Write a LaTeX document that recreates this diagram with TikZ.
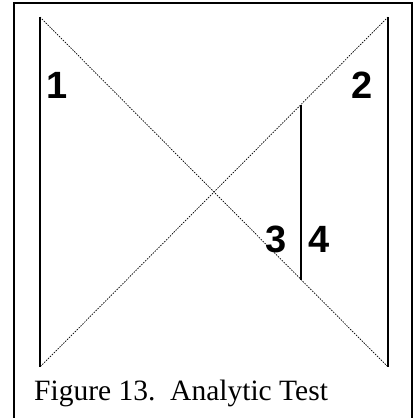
\documentclass[tikz,border=0pt]{standalone}
\usepackage{fontspec}
\setmainfont{Liberation Serif}
\newfontfamily\digitfont{Liberation Sans}
\usepackage{tikz}
\usetikzlibrary{positioning}

\begin{document}
\begin{tikzpicture}[x=1pt,y=-1pt,
  boxline/.style={line width=1.8pt},
  pole/.style={line width=2.5pt},
  sight/.style={line width=0.7pt,dash pattern=on 1.5pt off 1.2pt},
  num/.style={font=\digitfont\bfseries\fontsize{38}{38}\selectfont,inner sep=0pt,anchor=base},
  caption/.style={font=\fontsize{29.5}{31}\selectfont,inner sep=0pt,anchor=base west}]
\useasboundingbox (0,0) rectangle (417,418);
\clip (0,0) rectangle (417,418);
% frame, open at the bottom edge
\draw[boxline] (14,430) -- (14,3) -- (412,3) -- (412,430);
\coordinate (tl) at (40,17); \coordinate (bl) at (40,367);
\coordinate (tr) at (388,17); \coordinate (br) at (388,367);
\coordinate (mt) at (301,104.5); \coordinate (mb) at (301,280);
\draw[pole] (tl) -- (bl); \draw[pole] (tr) -- (br); \draw[pole] (mt) -- (mb);
\draw[sight] (tl) -- (br); \draw[sight] (tr) -- (bl);
\node[num] (n1) at (57,98) {1};
\node[num] (n2) at (362,98) {2};
\node[num] (n3) at (276,252) {3};
\node[num] (n4) at (319,252) {4};
\node[caption] (cap) at (34,400) {Figure 13.\ \ Analytic Test};
\end{tikzpicture}
\end{document}
